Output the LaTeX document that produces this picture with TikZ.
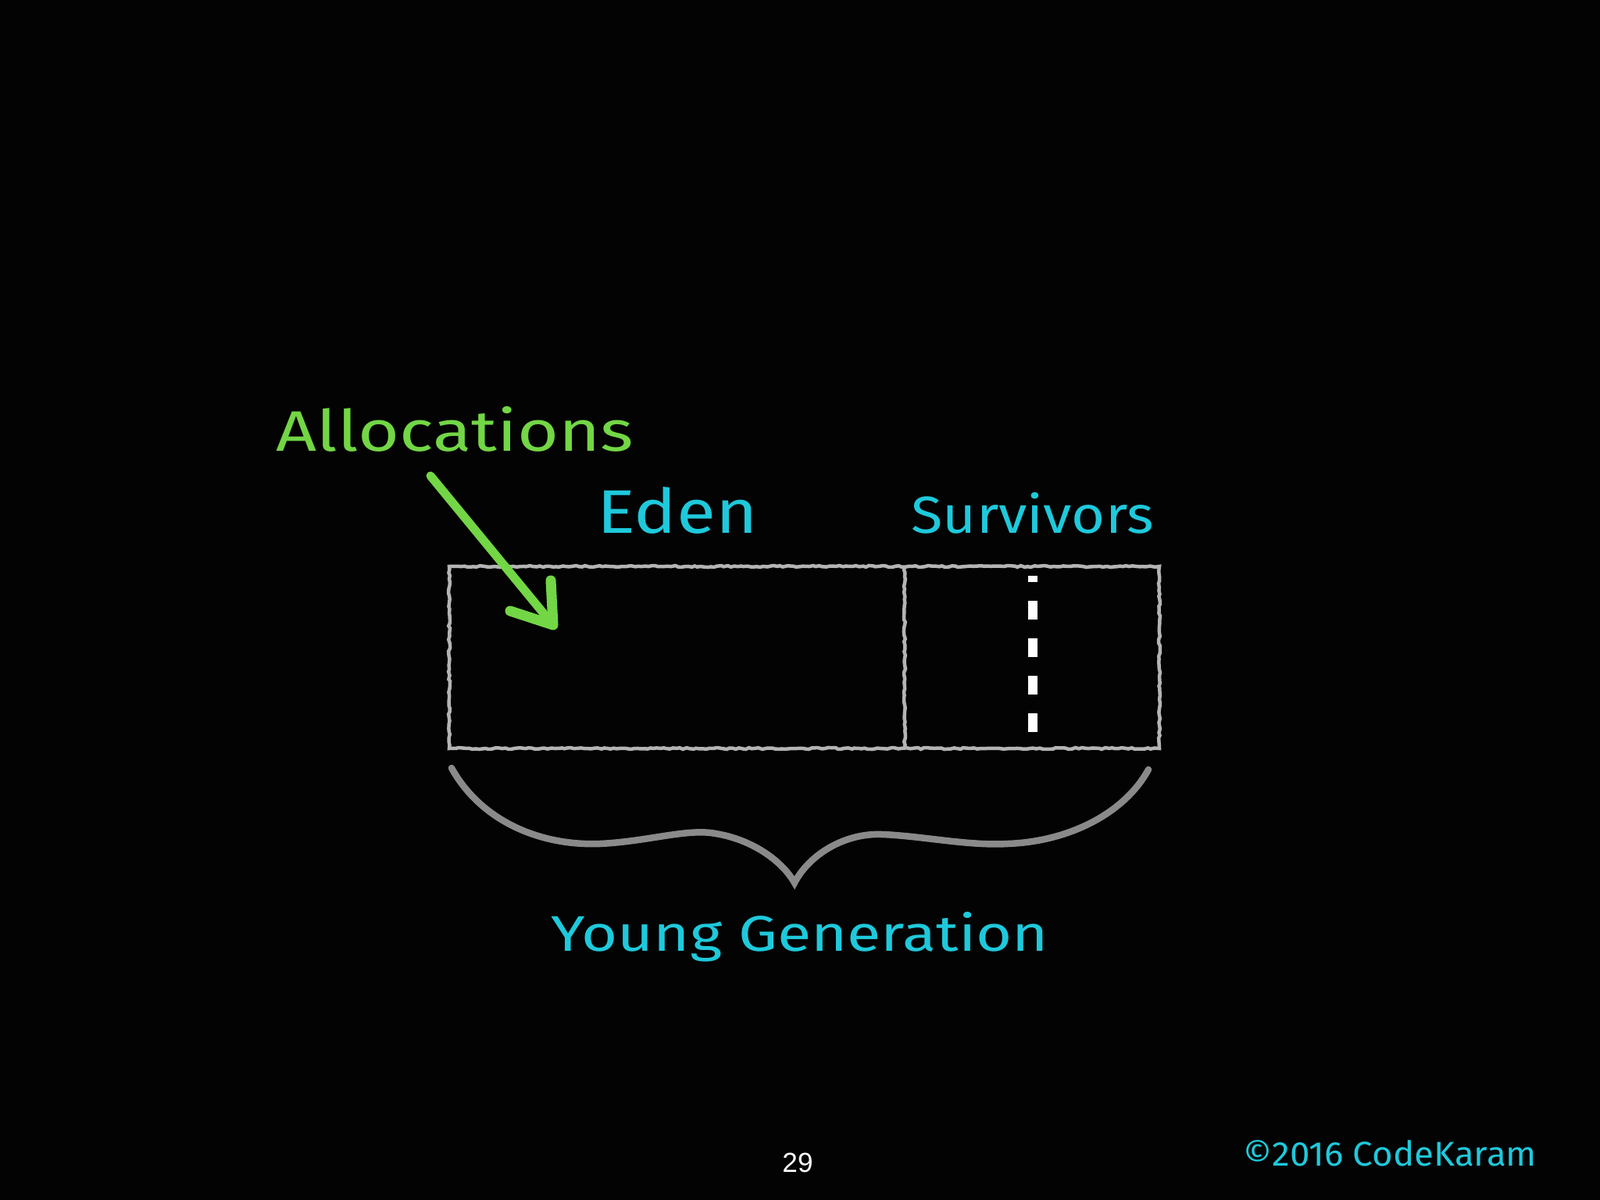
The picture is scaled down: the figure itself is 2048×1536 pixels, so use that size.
\documentclass[tikz,border=0pt]{standalone}
\usepackage{fontspec}
\usepackage{graphicx}
\setmainfont{Fira Sans}
\newfontfamily\pagefont{Liberation Sans}
\usetikzlibrary{decorations.pathmorphing}
\definecolor{bg}{HTML}{030303}
\definecolor{chalkgreen}{HTML}{72D645}
\definecolor{chalkcyan}{HTML}{1EC9DB}
\definecolor{boxgray}{HTML}{B4B4B4}
\definecolor{bracegray}{HTML}{8A8A8A}
\newcommand{\fitwh}[3]{\resizebox{#1}{#2}{#3}}
\tikzset{
  chalkbox/.style={draw=boxgray, line width=0.045cm,
    decorate, decoration={random steps, segment length=1.2pt, amplitude=0.3pt}},
  label/.style={inner sep=0pt, anchor=base west, text=chalkcyan},
  greenlabel/.style={inner sep=0pt, anchor=base west, text=chalkgreen},
  brace/.style={draw=bracegray, line width=0.085cm, line cap=round},
  allocarrow/.style={draw=chalkgreen, line width=0.11cm, line cap=round, line join=round},
  survdash/.style={draw=white, line width=0.12cm, dash pattern=on 0.24cm off 0.24cm, dash phase=0.16cm}
}
\begin{document}
\begin{tikzpicture}[x=0.01cm, y=-0.01cm]
\fill[bg] (0,0) rectangle (2048,1536);
\useasboundingbox (0,0) rectangle (2048,1536);

% memory box
\coordinate (tl) at (575,725);
\coordinate (br) at (1484,958);
\coordinate (dtop) at (1158,725);
\coordinate (dbot) at (1158,958);
\draw[chalkbox] (tl) rectangle (br);
\draw[chalkbox] (dtop) -- (dbot);

% survivor divider (dashed)
\coordinate (s1) at (1322,737);
\coordinate (s2) at (1322,937);
\draw[survdash] (s1) -- (s2);

% labels
\node[greenlabel] (alloc) at (353,577) {\fitwh{4.57cm}{0.57cm}{Allocations}};
\node[label] (eden) at (764,682) {\fitwh{2.05cm}{0.59cm}{Eden}};
\node[label] (surv) at (1166,682) {\fitwh{3.10cm}{0.52cm}{Survivors}};
\node[label] (young) at (705,1217) {\fitwh{6.36cm}{0.50cm}{Young Generation}};
\node[label] (copy) at (1591,1492) {\fitwh{3.75cm}{0.33cm}{©2016 CodeKaram}};
\node[inner sep=0pt, anchor=base, text=white] (page) at (1021,1500) {\pagefont\fontsize{10}{12}\selectfont 29};

% allocation arrow
\coordinate (a0) at (551,609);
\coordinate (a1) at (708,800);
\coordinate (h1) at (653,782);
\coordinate (h2) at (705,743);
\draw[allocarrow] (a0) -- (a1);
\draw[allocarrow, line width=0.13cm] (h1) -- (a1) -- (h2);

% brace
\coordinate (b0) at (578,983);
\coordinate (b1) at (768,1080);
\coordinate (b2) at (916,1067);
\coordinate (btip) at (1017,1130);
\coordinate (b4) at (1129,1068);
\coordinate (b5) at (1290,1080);
\coordinate (b6) at (1470,985);
\draw[brace] (b0) .. controls (615,1050) and (690,1083) .. (b1)
  .. controls (830,1077) and (880,1060) .. (b2)
  .. controls (960,1074) and (1000,1100) .. (btip)
  .. controls (1035,1095) and (1080,1066) .. (b4)
  .. controls (1180,1070) and (1240,1083) .. (b5)
  .. controls (1370,1077) and (1440,1040) .. (b6);
\end{tikzpicture}
\end{document}
